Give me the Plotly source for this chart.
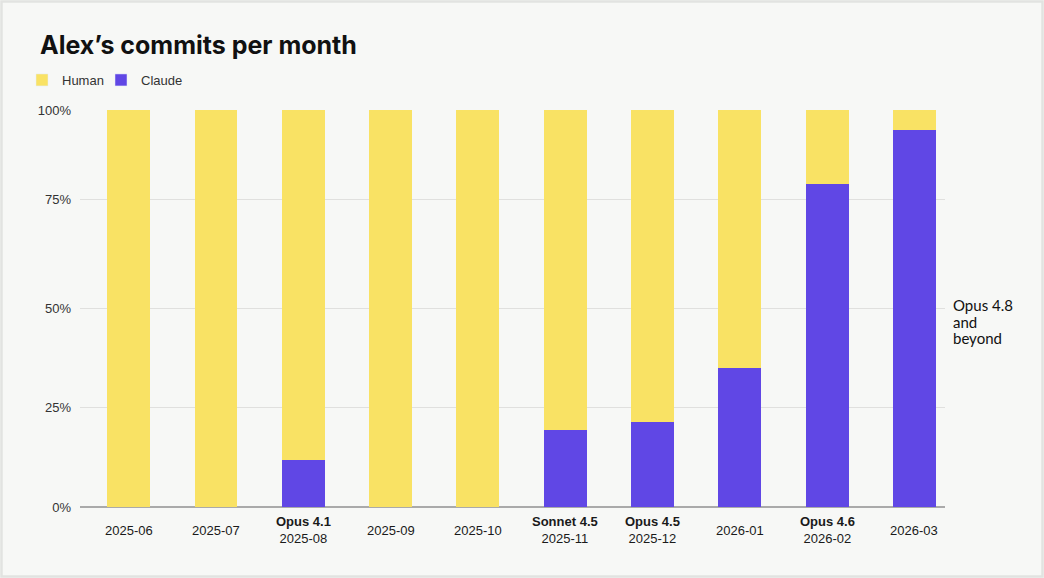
import plotly.graph_objects as go

months = ["2025-06", "2025-07", "2025-08", "2025-09", "2025-10",
          "2025-11", "2025-12", "2026-01", "2026-02", "2026-03"]
models = ["", "", "Opus 4.1", "", "", "Sonnet 4.5", "Opus 4.5", "", "Opus 4.6", ""]
claude_pct = [0, 0, 11.8, 0, 0, 19.4, 21.4, 35, 81.4, 95]
human_pct = [100 - c for c in claude_pct]
y_tickvals = [0, 25, 50, 77.5, 100]
y_ticktext = ["0%", "25%", "50%", "75%", "100%"]
side_note = ["Opus 4.8", "and", "beyond"]

YELLOW = "#F9E264"
PURPLE = "#6047E5"
BG = "#F7F8F6"
TXT = "#1a1a1a"

fig = go.Figure()
fig.add_trace(go.Bar(x=list(range(len(months))), y=claude_pct, name="Claude",
                     marker=dict(color=PURPLE, line=dict(width=0)), width=0.49,
                     showlegend=False))
fig.add_trace(go.Bar(x=list(range(len(months))), y=human_pct, name="Human",
                     marker=dict(color=YELLOW, line=dict(width=0)), width=0.49,
                     showlegend=False))
# legend-only entries
fig.add_trace(go.Bar(x=[None], y=[None], name="Human", marker_color=YELLOW, legend="legend"))
fig.add_trace(go.Bar(x=[None], y=[None], name="Claude", marker_color=PURPLE, legend="legend2"))

for i, (m, mod) in enumerate(zip(months, models)):
    text = f"<b>{mod}</b><br>{m}" if mod else m
    fig.add_annotation(x=i, xref="x", y=-0.058, yref="paper", text=text,
                       showarrow=False, yanchor="middle", align="center",
                       font=dict(family="Liberation Sans, Arial", size=13, color=TXT))

for k, line in enumerate(side_note):
    fig.add_annotation(x=(954 - 80) / 865, xref="paper",
                       y=(507 - 305 - k * 16.5) / 397, yref="paper",
                       text=line, showarrow=False, xanchor="left", yanchor="middle",
                       xshift=-2, borderpad=0,
                       font=dict(family="Lato", size=15, color="#111"))

# outer border
fig.add_shape(type="rect", xref="paper", yref="paper",
              x0=-78.5/865, x1=(1042.5-80)/865, y0=(507-576.5)/397, y1=(507-1.5)/397,
              line=dict(color="#E2E3E1", width=2.5), fillcolor="rgba(0,0,0,0)", layer="below")

legend_common = dict(orientation="h", xref="container", y=1-80/578,
                     yref="container", yanchor="middle", xanchor="left",
                     font=dict(family="Liberation Sans, Arial", size=13, color="#333"),
                     itemwidth=30, bgcolor="rgba(0,0,0,0)")

fig.update_layout(
    width=1044, height=578,
    margin=dict(l=80, r=99, t=110, b=71, autoexpand=False),
    paper_bgcolor=BG, plot_bgcolor=BG,
    barmode="stack", bargap=0.5,
    title=dict(text="<b>Alex’s commits per month</b>", x=40/1044, xanchor="left",
               xref="container", y=1-45/578, yanchor="middle", yref="container",
               font=dict(family="Inter", size=25, color="#111")),
    legend=dict(x=22/1044, **legend_common),
    legend2=dict(x=101/1044, **legend_common),
    xaxis=dict(range=[-0.557, 9.35], showticklabels=False, showgrid=False,
               zeroline=False, showline=False, ticks="", fixedrange=True),
    yaxis=dict(range=[0, 100], tickvals=y_tickvals, ticktext=y_ticktext,
               showgrid=True, gridcolor="#E0E0DE", gridwidth=1,
               zeroline=True, zerolinecolor="#AAAAAA", zerolinewidth=1.5,
               ticks="", ticklabelstandoff=8,
               tickfont=dict(family="Liberation Sans, Arial", size=13, color="#333")),
    font=dict(family="Liberation Sans, Arial", color=TXT),
)

fig.write_html("out.html")
